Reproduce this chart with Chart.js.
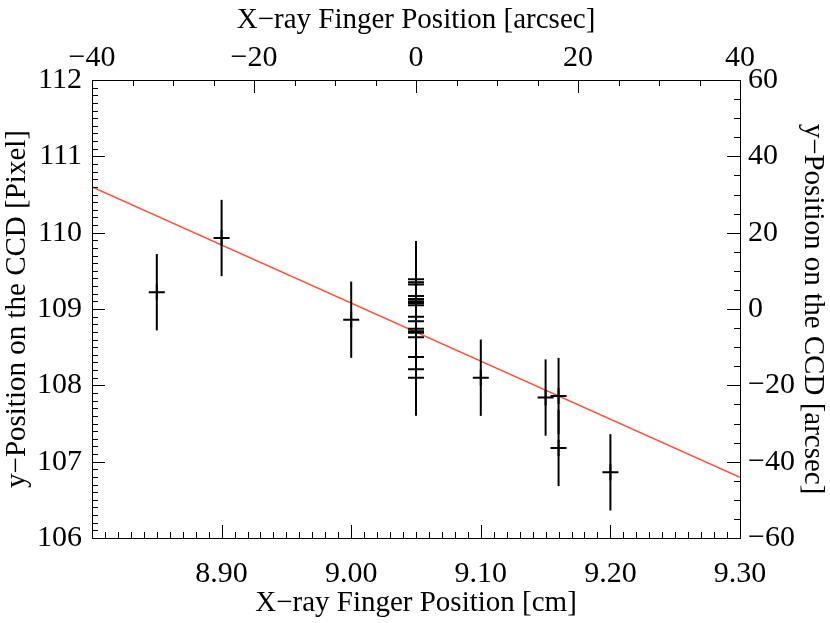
<!DOCTYPE html>
<html>
<head>
<meta charset="utf-8">
<script src="https://cdn.jsdelivr.net/npm/chart.js@4"></script>
<style>
  html, body { margin: 0; padding: 0; background: #fff; }
  #wrap { width: 830px; height: 623px; }
</style>
</head>
<body>
<div id="wrap"><canvas id="chart"></canvas></div>
<script>
// measured positions (cm) and y-position on the CCD (pixel)
var xCm = [8.85, 8.90, 9.00,
  9.05, 9.05, 9.05, 9.05, 9.05, 9.05, 9.05, 9.05, 9.05,
  9.05, 9.05, 9.05, 9.05, 9.05, 9.05, 9.05, 9.05,
  9.10, 9.15, 9.16, 9.16, 9.20];
var yPix = [109.22, 109.93, 108.86,
  109.39, 109.35, 109.32, 109.17, 109.13, 109.10, 109.08, 109.05, 108.90,
  108.84, 108.74, 108.71, 108.69, 108.63, 108.37, 108.21, 108.10,
  108.10, 107.84, 107.86, 107.18, 106.86];
var yErr = [0.5, 0.5, 0.5,
  0.5, 0.5, 0.5, 0.5, 0.5, 0.5, 0.5, 0.5, 0.5,
  0.5, 0.5, 0.5, 0.5, 0.5, 0.5, 0.5, 0.5,
  0.5, 0.5, 0.5, 0.5, 0.5];

// linear fit
var fitX = [8.80, 9.30];
var fitY = [110.60, 106.795];

// axes
var xMin = 8.80, xMax = 9.30, xStep = 0.1, xMinor = 0.01;
var yMin = 106, yMax = 112, yStep = 1, yMinor = 0.1;
var arcMin = -40, arcMax = 40, arcStep = 20, arcMinor = 5;
var yArcMin = -60, yArcMax = 60, yArcStep = 20, yArcMinor = 5;

var FONT = "'Liberation Serif', 'Times New Roman', serif";

function minus(v) {
  return String(v).replace('-', '\u2212');
}

// vertical error bars
var errorBars = {
  id: 'errorBars',
  afterDatasetsDraw: function (chart) {
    var ctx = chart.ctx;
    var xs = chart.scales.x, ys = chart.scales.y;
    ctx.save();
    ctx.strokeStyle = '#000';
    ctx.lineWidth = 2;
    for (var i = 0; i < xCm.length; i++) {
      var px = xs.getPixelForValue(xCm[i]);
      ctx.beginPath();
      ctx.moveTo(px, ys.getPixelForValue(yPix[i] + yErr[i]));
      ctx.lineTo(px, ys.getPixelForValue(yPix[i] - yErr[i]));
      ctx.stroke();
    }
    ctx.restore();
  }
};

// IDL style frame with inward major/minor ticks
var frameTicks = {
  id: 'frameTicks',
  afterDraw: function (chart) {
    var ctx = chart.ctx, a = chart.chartArea;
    var major = 13, minor = 6;
    ctx.save();
    ctx.strokeStyle = '#000';
    ctx.lineWidth = 1;
    ctx.strokeRect(a.left + 0.5, a.top + 0.5, a.right - a.left, a.bottom - a.top);

    function ticks(scale, lo, hi, step, mstep, side) {
      var n = Math.round((hi - lo) / mstep);
      var per = Math.round(step / mstep);
      for (var i = 0; i <= n; i++) {
        var v = lo + i * mstep;
        var len = (i % per === 0) ? major : minor;
        var p = Math.round(scale.getPixelForValue(v)) + 0.5;
        ctx.beginPath();
        if (side === 'bottom') { ctx.moveTo(p, a.bottom); ctx.lineTo(p, a.bottom - len); }
        if (side === 'top') { ctx.moveTo(p, a.top); ctx.lineTo(p, a.top + len); }
        if (side === 'left') { ctx.moveTo(a.left, p); ctx.lineTo(a.left + len, p); }
        if (side === 'right') { ctx.moveTo(a.right, p); ctx.lineTo(a.right - len, p); }
        ctx.stroke();
      }
    }
    ticks(chart.scales.x, xMin, xMax, xStep, xMinor, 'bottom');
    ticks(chart.scales.x2, arcMin, arcMax, arcStep, arcMinor, 'top');
    ticks(chart.scales.y, yMin, yMax, yStep, yMinor, 'left');
    ticks(chart.scales.y2, yArcMin, yArcMax, yArcStep, yArcMinor, 'right');
    ctx.restore();
  }
};

var points = xCm.map(function (x, i) { return { x: x, y: yPix[i] }; });
var fitLine = fitX.map(function (x, i) { return { x: x, y: fitY[i] }; });

function axisBase(size) {
  return {
    type: 'linear',
    offset: false,
    grid: { display: false, drawTicks: false },
    border: { display: false },
    ticks: {
      autoSkip: false,
      maxRotation: 0,
      color: '#000',
      font: { family: FONT, size: 30 }
    },
    title: {
      display: true,
      color: '#000',
      font: { family: FONT, size: 29, lineHeight: 1.2 }
    },
    afterFit: function (s) {
      if (s.isHorizontal()) s.height = size; else s.width = size;
    }
  };
}

var xAxis = axisBase(85);
xAxis.position = 'bottom';
xAxis.min = xMin; xAxis.max = xMax;
xAxis.ticks.stepSize = xStep;
xAxis.ticks.padding = 18;
xAxis.ticks.callback = function (v) { return Math.abs(v - xMin) < 1e-6 ? '' : v.toFixed(2); };
xAxis.title.text = 'X\u2212ray Finger Position [cm]';
xAxis.title.padding = { top: 2, bottom: 2 };

var x2Axis = axisBase(80);
x2Axis.position = 'top';
x2Axis.min = arcMin; x2Axis.max = arcMax;
x2Axis.ticks.stepSize = arcStep;
x2Axis.ticks.padding = 4;
x2Axis.ticks.callback = function (v) { return minus(v); };
x2Axis.title.text = 'X\u2212ray Finger Position [arcsec]';
x2Axis.title.padding = { top: 3, bottom: 3 };

var yAxis = axisBase(92);
yAxis.position = 'left';
yAxis.min = yMin; yAxis.max = yMax;
yAxis.ticks.stepSize = yStep;
yAxis.ticks.padding = 10;
yAxis.title.text = 'y\u2212Position on the CCD [Pixel]';
yAxis.title.padding = { top: 0, bottom: 0 };

var y2Axis = axisBase(90);
y2Axis.position = 'right';
y2Axis.min = yArcMin; y2Axis.max = yArcMax;
y2Axis.ticks.stepSize = yArcStep;
y2Axis.ticks.padding = 8;
y2Axis.ticks.callback = function (v) { return minus(v); };
y2Axis.title.text = 'y\u2212Position on the CCD [arcsec]';
y2Axis.title.padding = { top: 0, bottom: 0 };

new Chart(document.getElementById('chart'), {
  type: 'scatter',
  data: {
    datasets: [
      {
        type: 'line',
        data: fitLine,
        borderColor: 'rgb(255, 80, 55)',
        borderWidth: 1.5,
        pointRadius: 0,
        fill: false,
        order: 2
      },
      {
        data: points,
        pointStyle: 'cross',
        pointRadius: 8,
        borderColor: '#000',
        backgroundColor: '#000',
        borderWidth: 2,
        order: 1
      }
    ]
  },
  options: {
    responsive: true,
    maintainAspectRatio: false,
    animation: false,
    layout: { padding: 0 },
    plugins: {
      legend: { display: false },
      tooltip: { enabled: false }
    },
    scales: { x: xAxis, x2: x2Axis, y: yAxis, y2: y2Axis }
  },
  plugins: [errorBars, frameTicks]
});
</script>
</body>
</html>
